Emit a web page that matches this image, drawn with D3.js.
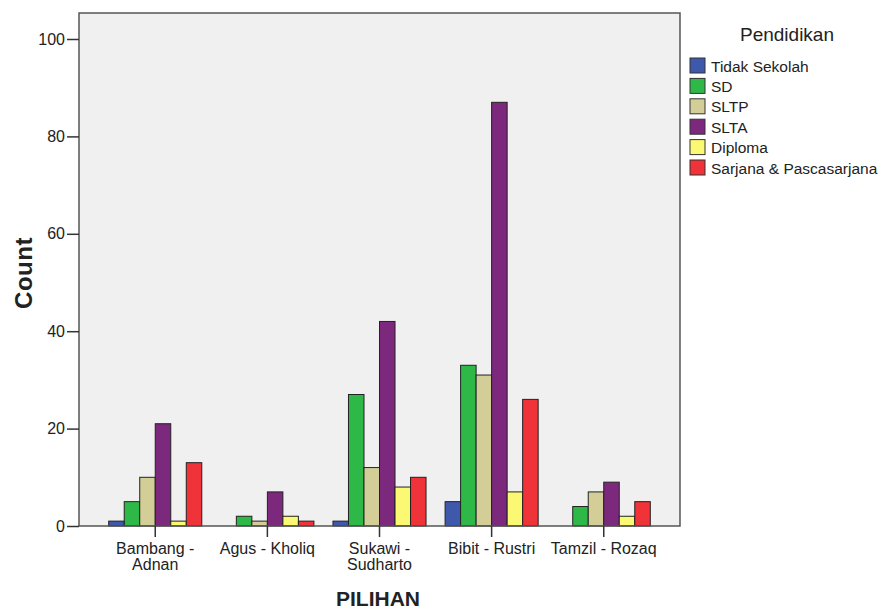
<!DOCTYPE html>
<html>
<head>
<meta charset="utf-8">
<script src="https://cdn.jsdelivr.net/npm/d3@7"></script>
<style>
  body { margin: 0; background: #fff; }
  text { font-family: "Liberation Sans", Arial, sans-serif; fill: #222; }
</style>
</head>
<body>
<svg id="chart" width="885" height="610"></svg>
<script>
// categories (x axis), split into label lines
const categories = ['Bambang - Adnan', 'Agus - Kholiq', 'Sukawi - Sudharto', 'Bibit - Rustri', 'Tamzil - Rozaq'];
const categoryLines = [['Bambang -', 'Adnan'], ['Agus - Kholiq'], ['Sukawi -', 'Sudharto'], ['Bibit - Rustri'], ['Tamzil - Rozaq']];

// series (legend)
const series = ['Tidak Sekolah', 'SD', 'SLTP', 'SLTA', 'Diploma', 'Sarjana & Pascasarjana'];
const colors = ['#3e58ac', '#2eb848', '#d3ce97', '#7c287d', '#fbf873', '#ef3338'];

// counts per series, one value per category
const tidakSekolah = [1, 0, 1, 5, 0];
const sd = [5, 2, 27, 33, 4];
const sltp = [10, 1, 12, 31, 7];
const slta = [21, 7, 42, 87, 9];
const diploma = [1, 2, 8, 7, 2];
const sarjana = [13, 1, 10, 26, 5];
const seriesValues = [tidakSekolah, sd, sltp, slta, diploma, sarjana];

const yTicks = [0, 20, 40, 60, 80, 100];

const svg = d3.select('#chart');
const plot = { left: 79, top: 13, right: 680, bottom: 526 };

const x = d3.scaleBand()
    .domain(categories)
    .range([plot.left, plot.right])
    .paddingInner(0)
    .paddingOuter(0.18);

const xInner = d3.scaleBand()
    .domain(series)
    .range([0, x.bandwidth() * 0.83]);

const y = d3.scaleLinear()
    .domain([0, 100])
    .range([plot.bottom, 39]);

// plot background
svg.append('rect')
    .attr('x', plot.left)
    .attr('y', plot.top)
    .attr('width', plot.right - plot.left)
    .attr('height', plot.bottom - plot.top)
    .attr('fill', '#f0f0f0');

// bars
const rows = categories.map((c, i) => series.map((s, j) => ({ cat: c, key: s, value: seriesValues[j][i], color: colors[j] })));

svg.append('g')
    .selectAll('g')
    .data(rows)
    .join('g')
    .attr('transform', (d, i) => `translate(${x(categories[i]) + x.bandwidth() * 0.085},0)`)
    .selectAll('rect')
    .data((d) => d.filter((v) => v.value > 0))
    .join('rect')
    .attr('x', (d) => xInner(d.key))
    .attr('y', (d) => y(d.value))
    .attr('width', xInner.bandwidth())
    .attr('height', (d) => plot.bottom - y(d.value))
    .attr('fill', (d) => d.color)
    .attr('stroke', '#222')
    .attr('stroke-width', 1);

// frame
svg.append('rect')
    .attr('x', plot.left)
    .attr('y', plot.top)
    .attr('width', plot.right - plot.left)
    .attr('height', plot.bottom - plot.top)
    .attr('fill', 'none')
    .attr('stroke', '#555')
    .attr('stroke-width', 1.5);

// y axis
const yAxis = svg.append('g')
    .attr('transform', `translate(${plot.left},0)`)
    .call(d3.axisLeft(y).tickValues(yTicks).tickSize(12).tickPadding(2));
yAxis.select('.domain').remove();
yAxis.selectAll('line').attr('stroke', '#333').attr('stroke-width', 1.5);
yAxis.selectAll('text').attr('font-size', 16).attr('fill', '#222')
    .style('font-family', '"Liberation Sans", Arial, sans-serif');

// x axis
const xAxis = svg.append('g')
    .attr('transform', `translate(0,${plot.bottom})`)
    .call(d3.axisBottom(x).tickSize(11).tickFormat(''));
xAxis.select('.domain').remove();
xAxis.selectAll('line').attr('stroke', '#333').attr('stroke-width', 1.5);

svg.append('g')
    .selectAll('text')
    .data(categories)
    .join('text')
    .attr('x', (d) => x(d) + x.bandwidth() / 2)
    .attr('y', plot.bottom + 28)
    .attr('text-anchor', 'middle')
    .attr('font-size', 16)
    .each(function (d, i) {
        d3.select(this).selectAll('tspan')
            .data(categoryLines[i])
            .join('tspan')
            .attr('x', x(d) + x.bandwidth() / 2)
            .attr('dy', (t, k) => (k === 0 ? 0 : 15.5))
            .text((t) => t);
    });

// axis titles
svg.append('text')
    .attr('x', 378)
    .attr('y', 606)
    .attr('text-anchor', 'middle')
    .attr('font-size', 21)
    .attr('font-weight', 'bold')
    .text('PILIHAN');

svg.append('text')
    .attr('transform', 'translate(32,273) rotate(-90)')
    .attr('text-anchor', 'middle')
    .attr('font-size', 24)
    .attr('font-weight', 'bold')
    .attr('letter-spacing', 0.5)
    .text('Count');

// legend
const legend = svg.append('g').attr('transform', 'translate(690,0)');
legend.append('text')
    .attr('x', 97)
    .attr('y', 41)
    .attr('text-anchor', 'middle')
    .attr('font-size', 19)
    .text('Pendidikan');

const item = legend.selectAll('g.item')
    .data(series)
    .join('g')
    .classed('item', true)
    .attr('transform', (d, i) => `translate(0,${58 + i * 20.4})`);

item.append('rect')
    .attr('width', 15)
    .attr('height', 15)
    .attr('fill', (d, i) => colors[i])
    .attr('stroke', '#333')
    .attr('stroke-width', 1);

item.append('text')
    .attr('x', 21)
    .attr('y', 13.5)
    .attr('font-size', 15.5)
    .text((d) => d);
</script>
</body>
</html>
